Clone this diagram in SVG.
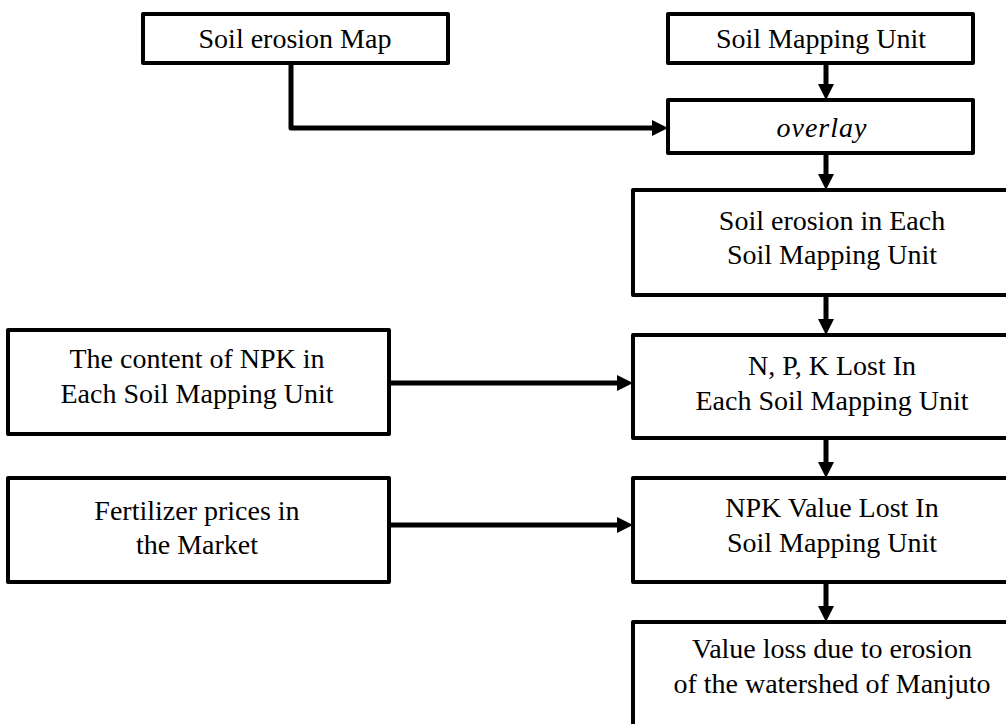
<svg xmlns="http://www.w3.org/2000/svg" width="1006" height="724" viewBox="0 0 1006 724">
<style>
.box{fill:#fff;stroke:#000;stroke-width:4;stroke-linejoin:round}
.t{font-family:"Liberation Serif","Times New Roman",serif;font-size:28px;fill:#000;text-anchor:middle}
.it{font-style:italic;letter-spacing:1px}
.c{fill:none;stroke:#000;stroke-width:5;stroke-linejoin:round}
</style>
<defs>
<marker id="ah" markerUnits="userSpaceOnUse" markerWidth="16" markerHeight="18" viewBox="0 0 16 18" refX="4" refY="8" orient="auto">
<path d="M0,0 L16,8 L0,16 z" fill="#000"/>
</marker>
</defs>
<rect width="1006" height="724" fill="#fff"/>
<g id="connectors">
<path class="c" d="M291,63 V128 H656" marker-end="url(#ah)"/>
<path class="c" d="M826,63 V88" marker-end="url(#ah)"/>
<path class="c" d="M826,153 V178" marker-end="url(#ah)"/>
<path class="c" d="M826,295 V323" marker-end="url(#ah)"/>
<path class="c" d="M826,438 V466" marker-end="url(#ah)"/>
<path class="c" d="M826,582 V610" marker-end="url(#ah)"/>
<path class="c" d="M389,383 H621" marker-end="url(#ah)"/>
<path class="c" d="M389,525 H621" marker-end="url(#ah)"/>
</g>
<g id="soil-erosion-map">
<rect class="box" x="143" y="14" width="305" height="49"/>
<text class="t" x="295" y="48">Soil erosion Map</text>
</g>
<g id="soil-mapping-unit">
<rect class="box" x="668" y="14" width="305" height="49"/>
<text class="t" x="821" y="48">Soil Mapping Unit</text>
</g>
<g id="overlay">
<rect class="box" x="668" y="100" width="305" height="53"/>
<text class="t it" x="822" y="137">overlay</text>
</g>
<g id="soil-erosion-each">
<rect class="box" x="633" y="190" width="400" height="105"/>
<text class="t" x="832" y="230">Soil erosion in Each</text>
<text class="t" x="832" y="264">Soil Mapping Unit</text>
</g>
<g id="npk-lost">
<rect class="box" x="633" y="335" width="400" height="103"/>
<text class="t" x="832" y="375">N, P, K Lost In</text>
<text class="t" x="832" y="410">Each Soil Mapping Unit</text>
</g>
<g id="npk-value-lost">
<rect class="box" x="633" y="478" width="400" height="104"/>
<text class="t" x="832" y="517">NPK Value Lost In</text>
<text class="t" x="832" y="552">Soil Mapping Unit</text>
</g>
<g id="value-loss">
<rect class="box" x="633" y="622" width="400" height="130"/>
<text class="t" x="832" y="658">Value loss due to erosion</text>
<text class="t" x="832" y="693">of the watershed of Manjuto</text>
</g>
<g id="npk-content">
<rect class="box" x="8" y="330" width="381" height="104"/>
<text class="t" x="197" y="368">The content of NPK in</text>
<text class="t" x="197" y="403">Each Soil Mapping Unit</text>
</g>
<g id="fertilizer-prices">
<rect class="box" x="8" y="478" width="381" height="104"/>
<text class="t" x="197" y="520">Fertilizer prices in</text>
<text class="t" x="197" y="554">the Market</text>
</g>
</svg>
